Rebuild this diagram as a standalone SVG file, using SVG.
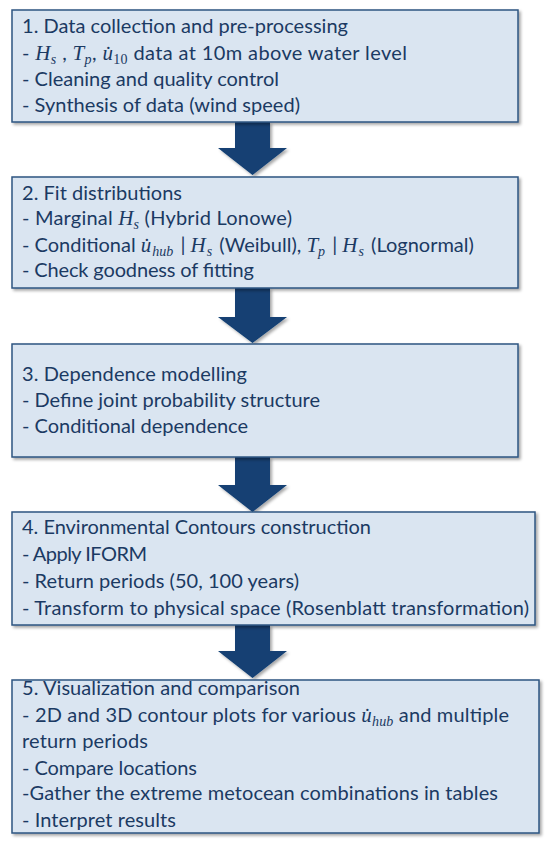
<svg xmlns="http://www.w3.org/2000/svg" width="550" height="845" viewBox="0 0 550 845">
<style>
.box{fill:#DAE5F1;stroke:#2E5581;stroke-width:1.5}
.t{font-family:Lato,"Liberation Sans",sans-serif;font-size:20px;fill:#1B3A63}
.m{font-family:"Liberation Serif","DejaVu Serif",serif;font-style:italic;font-size:21px}
.s{font-family:"Liberation Serif","DejaVu Serif",serif;font-style:italic;font-size:14px}
.n{font-family:"Liberation Serif","DejaVu Serif",serif;font-size:14px}
.arr{fill:#123F73}
</style>
<defs>
<filter id="sh" x="-5%" y="-10%" width="110%" height="130%">
<feDropShadow dx="2" dy="2" stdDeviation="1.5" flood-color="#000" flood-opacity="0.35"/>
</filter>
</defs>
<rect width="550" height="845" fill="#fff"/>
<g id="connectors" filter="url(#sh)">
<path class="arr" d="M235,122 H270 V148 H287 L252.5,175 L218,148 H235 Z"/>
<path class="arr" d="M235,288 H270 V317 H287 L252.5,343 L218,317 H235 Z"/>
<path class="arr" d="M235,457 H270 V485 H287 L252.5,512 L218,485 H235 Z"/>
<path class="arr" d="M235,625 H270 V651 H287 L252.5,678 L218,651 H235 Z"/>
</g>
<g id="step1">
<rect class="box" x="12" y="10" width="506" height="112" filter="url(#sh)"/>
<text class="t" x="22" y="33" textLength="326">1. Data collection and pre-processing</text>
<text class="t" x="22" y="60" textLength="385">- <tspan class="m">H</tspan><tspan class="s" dy="4">s</tspan><tspan dy="-4"> , </tspan><tspan class="m">T</tspan><tspan class="s" dy="4">p</tspan><tspan dy="-4">, </tspan><tspan class="m">u̇</tspan><tspan class="n" dy="4">10</tspan><tspan dy="-4"> data at 10m above water level</tspan></text>
<text class="t" x="22" y="86" textLength="257">- Cleaning and quality control</text>
<text class="t" x="22" y="112" textLength="278">- Synthesis of data (wind speed)</text>
</g>
<g id="step2">
<rect class="box" x="12" y="177" width="506" height="111" filter="url(#sh)"/>
<text class="t" x="22" y="200" textLength="160">2. Fit distributions</text>
<text class="t" x="22" y="225" textLength="270">- Marginal <tspan class="m">H</tspan><tspan class="s" dy="4">s</tspan><tspan dy="-4"> (Hybrid Lonowe)</tspan></text>
<text class="t" x="22" y="252">- Conditional <tspan class="m">u̇</tspan><tspan class="s" dy="4" dx="1">hub</tspan><tspan dy="-4" dx="2"> | </tspan><tspan class="m">H</tspan><tspan class="s" dy="4" dx="1">s</tspan><tspan dy="-4" dx="2"> (Weibull), </tspan><tspan class="m">T</tspan><tspan class="s" dy="4">p</tspan><tspan dy="-4" dx="2"> | </tspan><tspan class="m">H</tspan><tspan class="s" dy="4" dx="1">s</tspan><tspan dy="-4" dx="2"> (Lognormal)</tspan></text>
<text class="t" x="22" y="277" textLength="232">- Check goodness of fitting</text>
</g>
<g id="step3">
<rect class="box" x="12" y="344" width="506" height="113" filter="url(#sh)"/>
<text class="t" x="22" y="381" textLength="225">3. Dependence modelling</text>
<text class="t" x="22" y="407" textLength="298">- Define joint probability structure</text>
<text class="t" x="22" y="433" textLength="226">- Conditional dependence</text>
</g>
<g id="step4">
<rect class="box" x="12" y="512" width="523" height="113" filter="url(#sh)"/>
<text class="t" x="22" y="534" textLength="349">4. Environmental Contours construction</text>
<text class="t" x="22" y="561" textLength="125">- Apply IFORM</text>
<text class="t" x="22" y="588" textLength="277">- Return periods (50, 100 years)</text>
<text class="t" x="22" y="615" textLength="507">- Transform to physical space (Rosenblatt transformation)</text>
</g>
<g id="step5">
<rect class="box" x="12" y="680" width="527" height="153" filter="url(#sh)"/>
<text class="t" x="22" y="695" textLength="278">5. Visualization and comparison</text>
<text class="t" x="22" y="722" textLength="487">- 2D and 3D contour plots for various <tspan class="m">u̇</tspan><tspan class="s" dy="4">hub</tspan><tspan dy="-4"> and multiple</tspan></text>
<text class="t" x="22" y="748" textLength="126">return periods</text>
<text class="t" x="22" y="775" textLength="175">- Compare locations</text>
<text class="t" x="22" y="800" textLength="476">-Gather the extreme metocean combinations in tables</text>
<text class="t" x="22" y="827" textLength="154">- Interpret results</text>
</g>
</svg>
